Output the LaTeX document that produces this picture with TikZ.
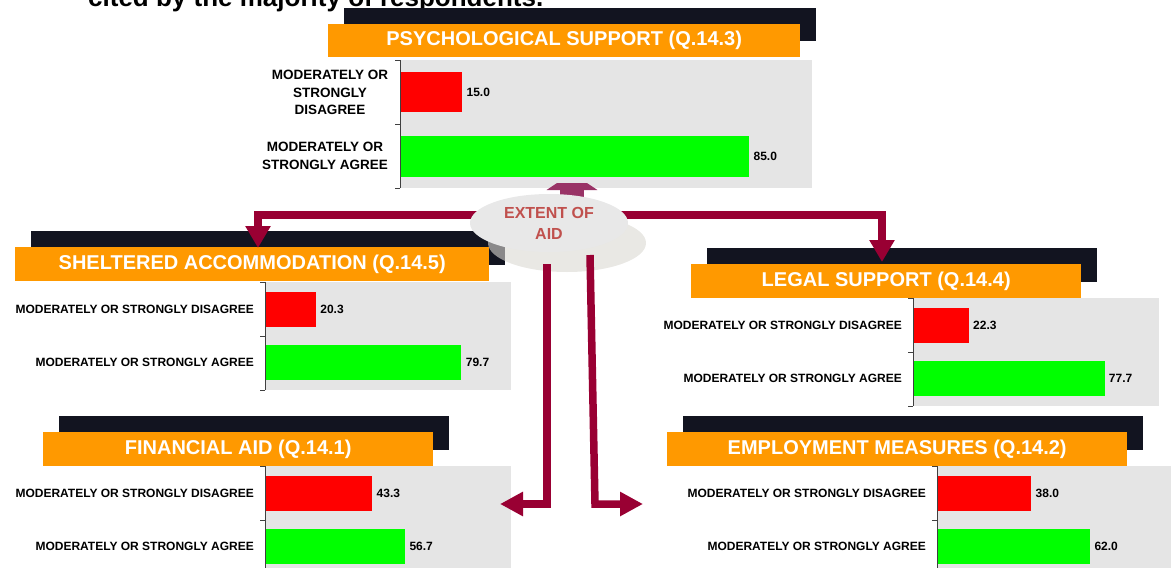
\documentclass[tikz,border=0pt]{standalone}
\usepackage{fontspec}
\setmainfont{Liberation Sans}
\usetikzlibrary{arrows.meta,shapes.geometric,shadows,calc}

\definecolor{headorange}{RGB}{255,153,0}
\definecolor{headshadow}{RGB}{18,20,32}
\definecolor{chartgray}{RGB}{229,229,229}
\definecolor{barred}{RGB}{255,0,0}
\definecolor{bargreen}{RGB}{0,255,0}
\definecolor{aidline}{RGB}{153,0,51}
\definecolor{aidup}{RGB}{153,51,102}
\definecolor{aidtext}{RGB}{192,80,77}
\definecolor{aidfill}{RGB}{232,232,232}
\definecolor{aidshade}{RGB}{218,216,210}

\tikzset{
  headbox/.style={fill=headorange, text=white, inner sep=0pt, minimum height=34pt,
    font=\bfseries\fontsize{20}{24}\selectfont,
    drop shadow={shadow xshift=16pt, shadow yshift=16pt, fill=headshadow, opacity=1}},
  chartbg/.style={fill=chartgray, inner sep=0pt, minimum width=246pt, minimum height=108pt},
  bar/.style={inner sep=0pt, minimum height=35pt},
  val/.style={font=\bfseries\fontsize{12}{14}\selectfont, inner sep=0pt, anchor=west, xshift=4pt},
  lbl/.style={font=\bfseries\fontsize{12}{14}\selectfont, inner sep=0pt, anchor=east},
  axisline/.style={draw=black!75, line width=1pt},
  aidell/.style={ellipse, fill=aidfill, minimum width=158pt, minimum height=58pt, inner sep=0pt,
    align=center, text=aidtext, font=\bfseries\fontsize{16}{21}\selectfont,
    drop shadow={shadow xshift=18pt, shadow yshift=-20pt, fill=aidshade, opacity=.6}},
  branch/.style={draw=aidline, line width=7.5pt, -{Triangle[width=24pt,length=22pt]}},
  uparrow/.style={draw=aidup, line width=24pt, -{Triangle[width=50pt,length=17pt]}}
}

\begin{document}
\begin{tikzpicture}[x=1pt,y=-1pt]
  \clip (0,0) rectangle (1171,568);
  \node[anchor=base west, inner sep=0pt, font=\bfseries\fontsize{26}{30}\selectfont] (head) at (88,6) {cited by the majority of respondents.};

  % psychological support
  \node[headbox, minimum width=472pt, minimum height=33pt, anchor=north west] (psy-t) at (328,24) {PSYCHOLOGICAL SUPPORT (Q.14.3)};
  \node[chartbg, minimum width=412pt, minimum height=128pt, anchor=north west] (psy-bg) at (400,60) {};
  \draw[axisline] (psy-bg.north west) -- (psy-bg.south west);
  \foreach \k in {0,64,128}
    \draw[axisline] ($(psy-bg.north west)+(0,\k)$) -- ++(-5,0);
  \node[bar, fill=barred, minimum width=61pt, minimum height=40pt, anchor=west] (psy-r) at ($(psy-bg.north west)+(1,32)$) {};
  \node[bar, fill=bargreen, minimum width=348pt, minimum height=41pt, anchor=west] (psy-g) at ($(psy-bg.north west)+(1,96.5)$) {};
  \node[val] (psy-vr) at (psy-r.east) {15.0};
  \node[val] (psy-vg) at (psy-g.east) {85.0};
  \node[align=center, inner sep=0pt, font=\bfseries\fontsize{13.5}{17.5}\selectfont] (psy-lr) at (330,92.5) {MODERATELY OR\\STRONGLY\\DISAGREE};
  \node[align=center, inner sep=0pt, font=\bfseries\fontsize{13.5}{17.5}\selectfont] (psy-lg) at (325,156) {MODERATELY OR\\STRONGLY AGREE};

  % the four smaller panels
  \foreach \pn/\tx/\ty/\tw/\ttl/\bx/\by/\dis/\agr in {
    shelt/15/247/474/{SHELTERED ACCOMMODATION (Q.14.5)}/265/282/20.3/79.7,
    legal/691/264/390/{LEGAL SUPPORT (Q.14.4)}/913/298/22.3/77.7,
    fin/43/432/390/{FINANCIAL AID (Q.14.1)}/265/466/43.3/56.7,
    emp/667/432/460/{EMPLOYMENT MEASURES (Q.14.2)}/937/466/38.0/62.0}
  {
    \node[headbox, minimum width=\tw pt, anchor=north west] (\pn-t) at (\tx,\ty) {\ttl};
    \node[chartbg, anchor=north west] (\pn-bg) at (\bx,\by) {};
    \draw[axisline] (\pn-bg.north west) -- (\pn-bg.south west);
    \foreach \k in {0,54,108}
      \draw[axisline] ($(\pn-bg.north west)+(0,\k)$) -- ++(-5,0);
    \node[bar, fill=barred, minimum width={2.45pt*\dis}, anchor=west] (\pn-r) at ($(\pn-bg.north west)+(1,27)$) {};
    \node[bar, fill=bargreen, minimum width={2.45pt*\agr}, anchor=west] (\pn-g) at ($(\pn-bg.north west)+(1,80.5)$) {};
    \node[val] (\pn-vr) at (\pn-r.east) {\dis};
    \node[val] (\pn-vg) at (\pn-g.east) {\agr};
    \node[lbl] (\pn-lr) at ($(\pn-bg.north west)+(-11,27)$) {MODERATELY OR STRONGLY DISAGREE};
    \node[lbl] (\pn-lg) at ($(\pn-bg.north west)+(-11,80.5)$) {MODERATELY OR STRONGLY AGREE};
  }

  % connectors round the centre
  \coordinate (up-tip) at (572,173);
  \coordinate (shelt-tip) at (258,248);
  \coordinate (legal-tip) at (882,262);
  \coordinate (fin-tip) at (500,504);
  \coordinate (emp-tip) at (643,504);
  \coordinate (aid-sw) at (547,264);
  \coordinate (aid-se) at (590,255);

  \begin{scope}
    \clip (530,183) rectangle (620,215);
    \draw[uparrow] (572,215) -- (up-tip);
  \end{scope}
  \draw[branch] ($(549,223)+(0,-8)$) -| (shelt-tip);
  \draw[branch] ($(549,223)+(0,-8)$) -| (legal-tip);

  \node[aidell] (aid) at (549,223) {EXTENT OF\\AID};

  \draw[branch, -{Triangle[width=23pt,length=23pt]}] (aid-sw) -- (aid-sw |- fin-tip) -- (fin-tip);
  \draw[branch, -{Triangle[width=23pt,length=23pt]}] (aid-se) -- (595,504) -- (emp-tip);
\end{tikzpicture}
\end{document}
